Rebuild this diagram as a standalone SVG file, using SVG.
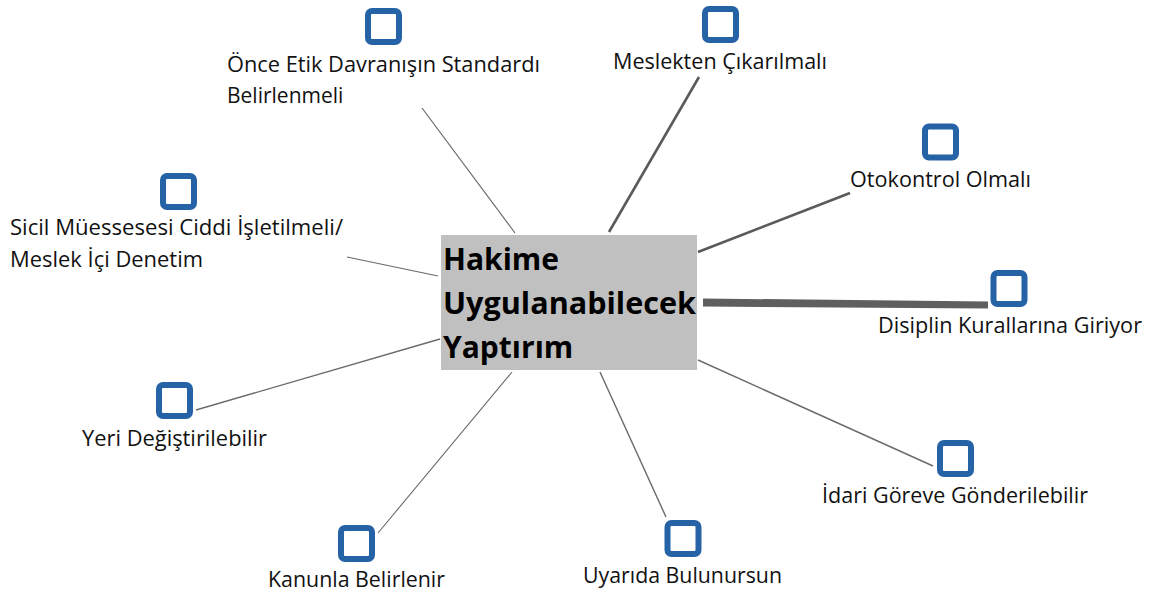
<svg xmlns="http://www.w3.org/2000/svg" width="1156" height="593" viewBox="0 0 1156 593">
<style>
.lbl{font-family:"Open Sans","Noto Sans","Liberation Sans",sans-serif;font-size:21px;fill:#111}
.ctr{font-family:"Open Sans","Noto Sans","Liberation Sans",sans-serif;font-size:30px;font-weight:bold;fill:#000}
.chk{fill:#fff;stroke:#2563a6;stroke-width:6}
.c{stroke:#6a6a6a;fill:none;stroke-linecap:butt}
</style>
<defs>
<rect id="box" class="chk" x="-15.5" y="-15.5" width="31" height="31" rx="4"/>
</defs>
<rect width="1156" height="593" fill="#fff"/>
<g id="connectors">
<line class="c" x1="422" y1="108" x2="515" y2="233" stroke-width="1.2"/>
<line class="c" x1="699" y1="77" x2="609" y2="232" stroke-width="2.6" style="stroke:#5a5a5a"/>
<line class="c" x1="850" y1="193" x2="698" y2="252" stroke-width="2.6" style="stroke:#5a5a5a"/>
<polygon points="703,298.5 988,301.5 988,308.5 703,306.5" fill="#5f5f5f"/>
<line class="c" x1="698" y1="360" x2="933" y2="466" stroke-width="1.4"/>
<line class="c" x1="600" y1="372" x2="666" y2="517" stroke-width="1.4"/>
<line class="c" x1="512" y1="372" x2="378" y2="533" stroke-width="1.1"/>
<line class="c" x1="440" y1="339" x2="196" y2="410" stroke-width="1.4"/>
<line class="c" x1="347" y1="257" x2="438" y2="276" stroke-width="1.2"/>
</g>
<g id="center">
<rect x="441" y="235" width="256" height="135" fill="#c0c0c0"/>
<text class="ctr" x="443" y="270">Hakime</text>
<text class="ctr" x="443" y="314" textLength="253" lengthAdjust="spacingAndGlyphs">Uygulanabilecek</text>
<text class="ctr" x="443" y="358">Yaptırım</text>
</g>
<g id="n1">
<use href="#box" x="383.5" y="26.5"/>
<text class="lbl" x="227" y="72" textLength="313" lengthAdjust="spacingAndGlyphs">Önce Etik Davranışın Standardı</text>
<text class="lbl" x="227" y="103">Belirlenmeli</text>
</g>
<g id="n2">
<use href="#box" x="720.5" y="24.5"/>
<text class="lbl" x="613" y="69" textLength="214" lengthAdjust="spacingAndGlyphs">Meslekten Çıkarılmalı</text>
</g>
<g id="n3">
<use href="#box" x="940.5" y="142"/>
<text class="lbl" x="850" y="187" textLength="181" lengthAdjust="spacingAndGlyphs">Otokontrol Olmalı</text>
</g>
<g id="n4">
<use href="#box" x="1009" y="288.5"/>
<text class="lbl" x="878" y="333" textLength="264" lengthAdjust="spacingAndGlyphs">Disiplin Kurallarına Giriyor</text>
</g>
<g id="n5">
<use href="#box" x="955.5" y="458.5"/>
<text class="lbl" x="822" y="503" textLength="266" lengthAdjust="spacingAndGlyphs">İdari Göreve Gönderilebilir</text>
</g>
<g id="n6">
<use href="#box" x="683" y="538.5"/>
<text class="lbl" x="583" y="583" textLength="199" lengthAdjust="spacingAndGlyphs">Uyarıda Bulunursun</text>
</g>
<g id="n7">
<use href="#box" x="356.5" y="543.5"/>
<text class="lbl" x="268" y="587" textLength="177" lengthAdjust="spacingAndGlyphs">Kanunla Belirlenir</text>
</g>
<g id="n8">
<use href="#box" x="174.5" y="400.5"/>
<text class="lbl" x="82" y="446" textLength="185" lengthAdjust="spacingAndGlyphs">Yeri Değiştirilebilir</text>
</g>
<g id="n9">
<use href="#box" x="178.5" y="191.5"/>
<text class="lbl" x="10" y="235" textLength="333" lengthAdjust="spacingAndGlyphs">Sicil Müessesesi Ciddi İşletilmeli/</text>
<text class="lbl" x="10" y="267" textLength="193" lengthAdjust="spacingAndGlyphs">Meslek İçi Denetim</text>
</g>
</svg>
